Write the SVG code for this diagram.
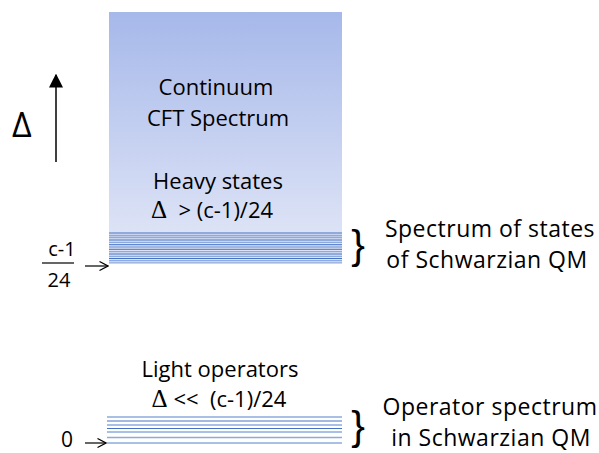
<svg xmlns="http://www.w3.org/2000/svg" width="599" height="453" viewBox="0 0 599 453">
<defs>
<linearGradient id="g" x1="0" y1="0" x2="0" y2="1">
<stop offset="0" stop-color="#a6b8ea"/>
<stop offset="1" stop-color="#dde3f6"/>
</linearGradient>
<marker id="tri" viewBox="0 0 10 10" refX="9" refY="5" markerWidth="14" markerHeight="14" markerUnits="userSpaceOnUse" orient="auto">
<path d="M0,0 L10,5 L0,10 Z" fill="#000"/>
</marker>
<marker id="open" viewBox="0 0 10 10" refX="9.5" refY="5" markerWidth="10" markerHeight="10" markerUnits="userSpaceOnUse" orient="auto">
<path d="M1,0.5 L9.5,5 L1,9.5" fill="none" stroke="#000" stroke-width="1.2"/>
</marker>
</defs>
<style>
text{font-family:"Open Sans","Noto Sans",sans-serif;fill:#000}
.m{text-anchor:middle;font-size:22px}
.r{text-anchor:middle;font-size:23px;letter-spacing:0.5px}
.s{font-size:20px;text-anchor:middle}
.d{font-family:"Liberation Serif","DejaVu Serif",serif;font-size:25px}
.b{font-family:"Liberation Sans",sans-serif;font-size:41px;text-anchor:middle}
.dk{stroke:#4472c4;stroke-width:1}
.lt{stroke:#8eaadc;stroke-width:1.3}
</style>
<g id="continuum">
<rect x="109" y="12" width="233" height="221" fill="url(#g)"/>
<text class="m" x="216" y="95">Continuum</text>
<text class="m" x="218" y="126">CFT Spectrum</text>
</g>
<g id="heavy-states">
<text class="m" x="218" y="189">Heavy states</text>
<text class="m" x="212" y="218" xml:space="preserve"><tspan class="d">Δ</tspan>  &gt; (c-1)/24</text>
<g>
<rect x="109" y="233" width="233" height="30" fill="#dde3f6"/>
<line class="dk" x1="109" y1="233" x2="342" y2="233"/>
<line class="lt" x1="109" y1="235.5" x2="342" y2="235.5"/>
<line class="lt" x1="109" y1="237.5" x2="342" y2="237.5"/>
<line class="dk" x1="109" y1="240" x2="342" y2="240"/>
<line class="lt" x1="109" y1="242.3" x2="342" y2="242.3"/>
<line class="dk" x1="109" y1="244.7" x2="342" y2="244.7"/>
<line class="lt" x1="109" y1="247" x2="342" y2="247"/>
<line class="dk" x1="109" y1="249.3" x2="342" y2="249.3"/>
<line class="lt" x1="109" y1="251.7" x2="342" y2="251.7"/>
<line class="dk" x1="109" y1="254" x2="342" y2="254"/>
<line class="lt" x1="109" y1="256.3" x2="342" y2="256.3"/>
<line class="dk" x1="109" y1="258.5" x2="342" y2="258.5"/>
<line class="lt" x1="109" y1="260.7" x2="342" y2="260.7"/>
<line class="lt" x1="109" y1="262.8" x2="342" y2="262.8"/>
</g>
</g>
<g id="threshold-label">
<text class="s" x="62" y="256">c-1</text>
<line x1="42" y1="263" x2="74" y2="263" stroke="#000" stroke-width="1.2"/>
<text class="s" x="59" y="287">24</text>
</g>
<g id="schwarzian-states">
<text class="b" x="358" y="259">}</text>
<text class="r" x="490" y="237">Spectrum of states</text>
<text class="r" x="487" y="268">of Schwarzian QM</text>
</g>
<g id="light-operators">
<text class="m" x="220" y="377">Light operators</text>
<text class="m" x="219" y="407" xml:space="preserve"><tspan class="d">Δ</tspan> &lt;&lt;  (c-1)/24</text>
<line class="lt" x1="107" y1="417" x2="342" y2="417"/>
<line class="dk" x1="107" y1="421" x2="342" y2="421"/>
<line class="lt" x1="107" y1="425" x2="342" y2="425"/>
<line class="dk" x1="107" y1="428.5" x2="342" y2="428.5"/>
<line class="lt" x1="107" y1="432" x2="342" y2="432"/>
<line class="lt" x1="107" y1="437.5" x2="342" y2="437.5"/>
<line class="lt" x1="107" y1="443" x2="342" y2="443"/>
</g>
<g id="zero-label">
<text x="61" y="447" font-size="21">0</text>
</g>
<g id="schwarzian-operators">
<text class="b" x="358" y="440">}</text>
<text class="r" x="490" y="415">Operator spectrum</text>
<text class="r" x="491" y="446">in Schwarzian QM</text>
</g>
<g id="delta-axis">
<text x="12" y="137" font-family="'Liberation Serif',serif" font-size="34">Δ</text>
</g>
<g id="connectors">
<line x1="56" y1="162" x2="56" y2="75" stroke="#000" stroke-width="1.5" marker-end="url(#tri)"/>
<line x1="85" y1="266" x2="108" y2="266" stroke="#000" stroke-width="1.2" marker-end="url(#open)"/>
<line x1="85" y1="443" x2="106" y2="443" stroke="#000" stroke-width="1.2" marker-end="url(#open)"/>
</g>
</svg>
